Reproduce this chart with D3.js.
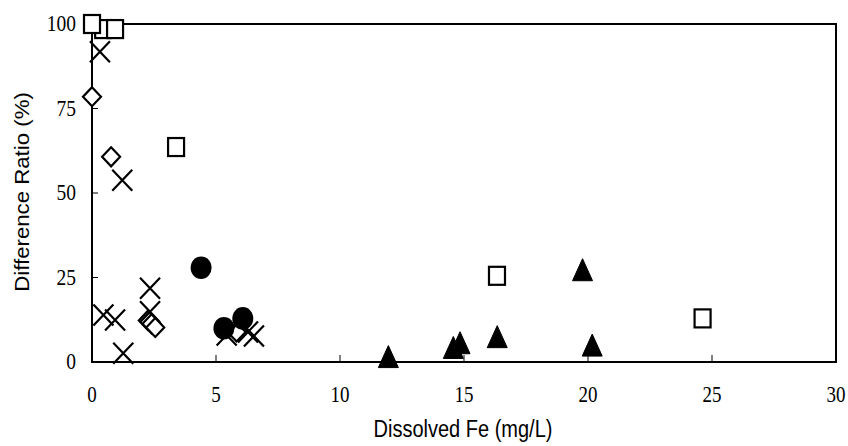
<!DOCTYPE html>
<html>
<head>
<meta charset="utf-8">
<script src="https://cdn.jsdelivr.net/npm/d3@7"></script>
<style>
  body { margin: 0; background: #fff; }
  svg { display: block; }
</style>
</head>
<body>
<div id="chart"></div>
<script>
// values: [dissolved Fe, difference ratio]
const squares = [[0.45, 98.5], [0.93, 98.5], [0, 100], [3.39, 63.6], [16.33, 25.5], [24.62, 12.9]];
const diamonds = [[0, 78.5], [0.77, 60.7], [2.25, 12.3], [2.4, 11.3], [2.55, 10.2], [5.83, 8.9]];
const crosses = [[0.32, 91.8], [1.22, 53.8], [0.46, 13.9], [0.93, 12.4], [1.26, 2.6],
    [2.34, 21.8], [2.34, 14.9], [5.43, 8], [6.29, 8.9], [6.53, 7.7]];
const circles = [[4.4, 27.9], [5.32, 10], [6.08, 12.9]];
const triangles = [[11.95, 1.6], [14.57, 4.3], [14.84, 5.7], [16.34, 7.5], [19.78, 27.3], [20.17, 5]];

const xTicks = [0, 5, 10, 15, 20, 25, 30];
const yTicks = [0, 25, 50, 75, 100];

const width = 848, height = 446;
const plotLeft = 92, plotRight = 836, plotTop = 24, plotBottom = 362;

const svg = d3.select('#chart').append('svg')
    .attr('width', width)
    .attr('height', height);

const x = d3.scaleLinear().domain([0, 30]).range([plotLeft, plotRight]);
const y = d3.scaleLinear().domain([0, 100]).range([plotBottom, plotTop]);

// frame
svg.append('rect')
    .attr('x', plotLeft).attr('y', plotTop)
    .attr('width', plotRight - plotLeft).attr('height', plotBottom - plotTop)
    .attr('fill', 'none').attr('stroke', '#000').attr('stroke-width', 2);

// inward ticks
svg.selectAll('.xtick').data(xTicks.slice(1, -1)).enter().append('line')
    .attr('x1', x).attr('x2', x)
    .attr('y1', plotBottom).attr('y2', plotBottom - 7)
    .attr('stroke', '#000').attr('stroke-width', 1);

svg.selectAll('.ytick').data(yTicks.slice(1, -1)).enter().append('line')
    .attr('x1', plotLeft).attr('x2', plotLeft + 6)
    .attr('y1', y).attr('y2', y)
    .attr('stroke', '#000').attr('stroke-width', 1);

// tick labels (slightly stretched vertically like the original)
svg.selectAll('.xlab').data(xTicks).enter().append('text')
    .attr('transform', d => `translate(${x(d)},402) scale(1,1.22)`)
    .attr('text-anchor', 'middle')
    .style('font-family', '"Liberation Serif", "Times New Roman", serif')
    .style('font-size', '19px')
    .text(d => d);

svg.selectAll('.ylab').data(yTicks).enter().append('text')
    .attr('transform', d => `translate(76,${y(d) + 7}) scale(1,1.18)`)
    .attr('text-anchor', 'end')
    .style('font-family', '"Liberation Serif", "Times New Roman", serif')
    .style('font-size', '19.5px')
    .text(d => d);

// axis titles
svg.append('text')
    .attr('transform', 'translate(463,437) scale(1,1.15)')
    .attr('text-anchor', 'middle')
    .style('font-family', '"Liberation Sans", Arial, sans-serif')
    .style('font-size', '20px')
    .text('Dissolved Fe (mg/L)');

svg.append('text')
    .attr('transform', 'translate(29,192) scale(1,1.14) rotate(-90)')
    .attr('text-anchor', 'middle')
    .style('font-family', '"Liberation Sans", Arial, sans-serif')
    .style('font-size', '19.5px')
    .text('Difference Ratio (%)');

// markers
const marks = svg.append('g');

marks.selectAll('.sq').data(squares).enter().append('rect')
    .attr('x', d => x(d[0]) - 8).attr('y', d => y(d[1]) - 9)
    .attr('width', 16).attr('height', 18)
    .attr('fill', '#fff').attr('stroke', '#000').attr('stroke-width', 2.2);

marks.selectAll('.dm').data(diamonds).enter().append('path')
    .attr('d', d => {
        const cx = x(d[0]), cy = y(d[1]);
        return `M${cx},${cy - 9.5}L${cx + 9},${cy}L${cx},${cy + 9.5}L${cx - 9},${cy}Z`;
    })
    .attr('fill', '#fff').attr('stroke', '#000').attr('stroke-width', 2.2);

marks.selectAll('.cr').data(crosses).enter().append('path')
    .attr('d', d => {
        const cx = x(d[0]), cy = y(d[1]);
        return `M${cx - 10},${cy - 10.5}L${cx + 10},${cy + 10.5}M${cx + 10},${cy - 10.5}L${cx - 10},${cy + 10.5}`;
    })
    .attr('fill', 'none').attr('stroke', '#000').attr('stroke-width', 2.2);

marks.selectAll('.ci').data(circles).enter().append('ellipse')
    .attr('cx', d => x(d[0])).attr('cy', d => y(d[1]))
    .attr('rx', 10.5).attr('ry', 11.3)
    .attr('fill', '#000');

marks.selectAll('.tr').data(triangles).enter().append('path')
    .attr('d', d => {
        const cx = x(d[0]), cy = y(d[1]);
        return `M${cx},${cy - 11}L${cx + 10},${cy + 11}L${cx - 10},${cy + 11}Z`;
    })
    .attr('fill', '#000').attr('stroke', '#000').attr('stroke-width', 1)
    .attr('stroke-linejoin', 'round');
</script>
</body>
</html>
